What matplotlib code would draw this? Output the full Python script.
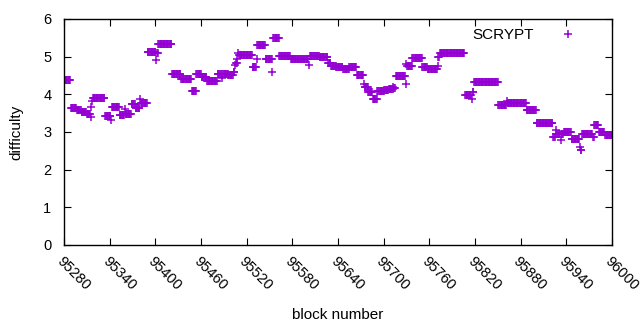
import numpy as np
import matplotlib
matplotlib.use('Agg')
import matplotlib.pyplot as plt

plt.rcParams['font.family'] = ['Liberation Sans', 'DejaVu Sans']

# runs of equal difficulty: first block, last block, difficulty
seg_start = [95280, 95289, 95297, 95303, 95310, 95315, 95316, 95317, 95318, 95334,
             95342, 95343, 95353, 95360, 95361, 95369, 95374, 95380, 95381, 95390,
             95401, 95402, 95404, 95422, 95434, 95448, 95454, 95461, 95468, 95482,
             95487, 95488, 95496, 95503, 95505, 95506, 95508, 95509, 95510, 95528,
             95533, 95534, 95545, 95554, 95555, 95563, 95578, 95602, 95603, 95616,
             95627, 95631, 95638, 95647, 95655, 95665, 95674, 95675, 95680, 95686,
             95692, 95701, 95707, 95713, 95714, 95716, 95729, 95730, 95731, 95738,
             95751, 95758, 95771, 95772, 95774, 95807, 95816, 95817, 95819, 95851,
             95862, 95863, 95888, 95901, 95923, 95926, 95927, 95933, 95934, 95937,
             95947, 95958, 95959, 95961, 95975, 95977, 95983, 95991]
seg_end = [95288, 95296, 95302, 95309, 95314, 95315, 95316, 95317, 95333, 95341,
           95342, 95352, 95359, 95360, 95368, 95373, 95379, 95380, 95389, 95400,
           95401, 95403, 95421, 95433, 95447, 95453, 95460, 95467, 95481, 95486,
           95487, 95495, 95502, 95504, 95505, 95507, 95508, 95509, 95527, 95532,
           95533, 95544, 95553, 95554, 95562, 95577, 95601, 95602, 95615, 95626,
           95630, 95637, 95646, 95654, 95664, 95673, 95674, 95679, 95685, 95691,
           95700, 95706, 95712, 95713, 95715, 95728, 95729, 95730, 95737, 95750,
           95757, 95770, 95771, 95773, 95806, 95815, 95816, 95818, 95850, 95861,
           95862, 95887, 95900, 95922, 95925, 95926, 95932, 95933, 95936, 95946,
           95957, 95958, 95960, 95974, 95976, 95982, 95990, 96000]
seg_diff = [4.38, 3.63, 3.58, 3.53, 3.48, 3.39, 3.67, 3.82, 3.89, 3.42,
            3.33, 3.66, 3.45, 3.61, 3.48, 3.74, 3.64, 3.88, 3.76, 5.12,
            4.90, 5.10, 5.33, 4.55, 4.41, 4.08, 4.53, 4.45, 4.36, 4.53,
            4.42, 4.53, 4.50, 4.60, 4.78, 4.84, 4.94, 5.10, 5.04, 4.72,
            4.93, 5.30, 4.93, 4.59, 5.49, 5.01, 4.93, 4.77, 5.01, 4.98,
            4.82, 4.74, 4.72, 4.68, 4.72, 4.50, 4.28, 4.19, 4.05, 3.87,
            4.09, 4.12, 4.13, 4.20, 4.17, 4.48, 4.80, 4.27, 4.74, 4.96,
            4.72, 4.66, 4.75, 4.98, 5.09, 3.97, 3.88, 4.07, 4.32, 3.71,
            3.82, 3.76, 3.57, 3.23, 2.86, 3.04, 2.95, 2.80, 2.95, 2.99,
            2.81, 2.61, 2.51, 2.95, 2.86, 3.19, 2.99, 2.92]

xticks = [95280, 95340, 95400, 95460, 95520, 95580, 95640, 95700,
          95760, 95820, 95880, 95940, 96000]
yticks = [0, 1, 2, 3, 4, 5, 6]

blocks = []
diffs = []
for s, e, d in zip(seg_start, seg_end, seg_diff):
    for b in range(s, e + 1):
        blocks.append(b)
        diffs.append(d)

fig = plt.figure(figsize=(6.4, 3.3), dpi=100)
ax = fig.add_axes([0.1, 0.2576, 0.856, 0.685])

ax.plot(blocks, diffs, linestyle='none', marker='+', color='#9400d3',
        markersize=5.5, markeredgewidth=1.1, label='SCRYPT')

ax.set_xlim(95280, 96000)
ax.set_ylim(0, 6)
ax.set_xticks(xticks)
ax.set_yticks(yticks)
ax.set_xticklabels([str(t) for t in xticks], rotation=-45, ha='left', va='top',
                   rotation_mode='anchor')
ax.tick_params(direction='in', top=True, right=True, length=5, width=0.8,
               labelsize=10.5, pad=7)
ax.tick_params(axis='y', pad=9)
for sp in ax.spines.values():
    sp.set_linewidth(1.0)

ax.set_xlabel('block number', fontsize=11)
ax.set_ylabel('difficulty', fontsize=11)
ax.xaxis.set_label_coords(0.5, -0.28)
ax.yaxis.set_label_coords(-0.074, 0.5)

ax.legend(loc='upper right', bbox_to_anchor=(0.972, 1.0), frameon=False,
          markerfirst=False, fontsize=11, handlelength=2.5, handletextpad=1.0,
          borderaxespad=0.2)

fig.savefig('out.png', dpi=100)
